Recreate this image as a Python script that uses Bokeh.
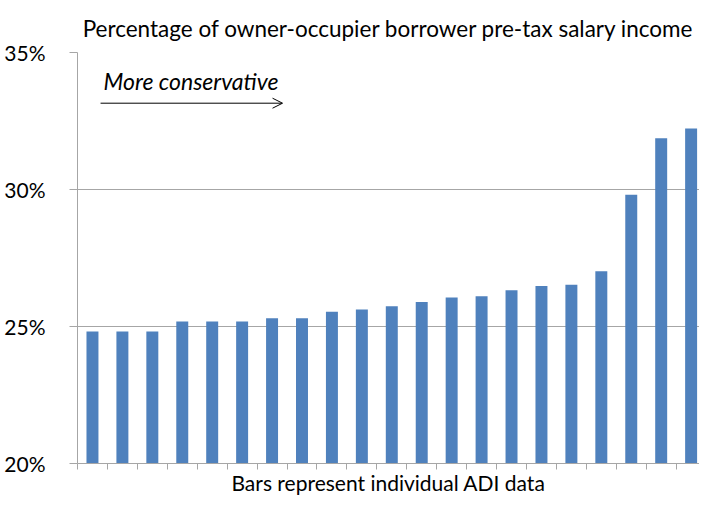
from bokeh.plotting import figure
from bokeh.models import Range1d, FixedTicker, Label, Arrow, OpenHead, ColumnDataSource
from bokeh.embed import file_html
from bokeh.resources import INLINE

# ---- data ----
adi = list(range(1, 22))
share = [24.82, 24.82, 24.82, 25.18, 25.18, 25.18, 25.30, 25.30, 25.54, 25.62,
         25.74, 25.89, 26.06, 26.10, 26.32, 26.48, 26.52, 27.02, 29.81, 31.87, 32.23]
y_ticks = [20, 25, 30, 35]
y_labels = ["20%", "25%", "30%", "35%"]
subtitle = "Percentage of owner-occupier borrower pre-tax salary income"
x_title = "Bars represent individual ADI data"
note = "More conservative"

FONT = "Lato"
GREY = "#A6A6A6"
BLUE = "#4F81BD"

x_pos = [i - 0.5 for i in adi]
src = ColumnDataSource(dict(x=x_pos, top=share))

p = figure(width=699, height=497, output_backend="svg", toolbar_location=None,
           x_range=Range1d(0, 20.78), y_range=Range1d(20, 35),
           min_border_left=77, min_border_right=0, min_border_top=52,
           min_border_bottom=30, background_fill_color="white",
           border_fill_color="white")
p.outline_line_color = None

p.vbar(x="x", top="top", bottom=20, width=0.4, source=src,
       fill_color=BLUE, line_color=None)

# title
p.title.text = subtitle
p.title.align = "center"
p.title.text_font = FONT
p.title.text_font_size = "22.5px"
p.title.text_font_style = "normal"
p.title.text_color = "black"
p.title.standoff = 22

# x axis
xa = p.xaxis[0]
xa.ticker = FixedTicker(ticks=list(range(0, 22)))
xa.major_label_overrides = {i: "" for i in range(0, 22)}
xa.major_label_text_font_size = "1px"
xa.major_label_standoff = 0
xa.major_tick_in = 0
xa.major_tick_out = 6
xa.minor_tick_line_color = None
xa.axis_line_color = GREY
xa.major_tick_line_color = GREY
xa.axis_label = x_title
xa.axis_label_text_font = FONT
xa.axis_label_text_font_size = "21px"
xa.axis_label_text_font_style = "normal"
xa.axis_label_text_color = "black"
xa.axis_label_standoff = 0

# y axis
ya = p.yaxis[0]
ya.ticker = FixedTicker(ticks=y_ticks)
ya.major_label_overrides = {t: l for t, l in zip(y_ticks, y_labels)}
ya.major_label_text_font = FONT
ya.major_label_text_font_size = "21px"
ya.major_label_text_color = "black"
ya.major_label_standoff = 24
ya.major_tick_in = 0
ya.major_tick_out = 8
ya.minor_tick_line_color = None
ya.axis_line_color = GREY
ya.major_tick_line_color = GREY

p.xgrid.visible = False
p.ygrid.ticker = FixedTicker(ticks=y_ticks)
p.ygrid.grid_line_color = GREY
p.ygrid.grid_line_width = 1

# annotation
p.add_layout(Label(x=0.87, y=33.95, text=note, text_font=FONT,
                   text_font_size="23px", text_font_style="italic",
                   text_color="black", text_baseline="alphabetic"))
p.add_layout(Arrow(x_start=0.77, y_start=33.15, x_end=6.85, y_end=33.15,
                   line_width=1, line_color="black",
                   end=OpenHead(size=10, line_width=1, line_color="black")))

open("out.html", "w").write(file_html(p, INLINE))
